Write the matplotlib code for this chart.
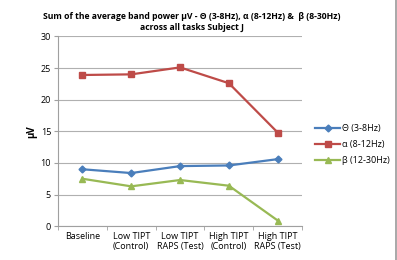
import matplotlib
matplotlib.use('Agg')
import matplotlib.pyplot as plt
from matplotlib.lines import Line2D

categories = ['Baseline', 'Low TIPT\n(Control)', 'Low TIPT\nRAPS (Test)',
              'High TIPT\n(Control)', 'High TIPT\nRAPS (Test)']
theta = [9.0, 8.4, 9.5, 9.6, 10.6]
alpha = [23.9, 24.0, 25.1, 22.6, 14.8]
beta = [7.5, 6.3, 7.3, 6.4, 0.9]
y_ticks = [0, 5, 10, 15, 20, 25, 30]

plt.rcParams['font.family'] = ['Open Sans', 'DejaVu Sans']

fig = plt.figure(figsize=(3.97, 2.6), dpi=100)
ax = fig.add_axes([0.146, 0.13, 0.615, 0.73])

x = range(len(categories))
ax.plot(x, theta, color='#4a7ebb', marker='D', markersize=3.5, lw=1.6, label='Θ (3-8Hz)')
ax.plot(x, alpha, color='#be4b48', marker='s', markersize=5, lw=1.6, label='α (8-12Hz)')
ax.plot(x, beta, color='#98b954', marker='^', markersize=5, lw=1.6, label='β (12-30Hz)')

ax.set_xlim(-0.5, len(categories) - 0.5)
ax.set_ylim(0, 30)
ax.set_yticks(y_ticks)
ax.set_xticks(list(x))
ax.set_xticklabels(categories, fontsize=6.5)
ax.tick_params(axis='y', labelsize=6.5, length=3, color='#a0a0a0', pad=2)
ax.tick_params(axis='x', length=0, pad=4)
# tick marks between categories
ax.set_xticks([i - 0.5 for i in range(len(categories) + 1)], minor=True)
ax.tick_params(axis='x', which='minor', length=3, color='#a0a0a0')

ax.grid(axis='y', color='#b0b0b0', lw=0.8)
ax.set_axisbelow(True)
for s in ['top', 'right']:
    ax.spines[s].set_visible(False)
for s in ['left', 'bottom']:
    ax.spines[s].set_color('#a0a0a0')
    ax.spines[s].set_linewidth(0.8)

ax.set_ylabel('µV', fontsize=7, fontweight='bold', labelpad=2)
ax.set_title('Sum of the average band power µV - Θ (3-8Hz), α (8-12Hz) &  β (8-30Hz)\n'
             'across all tasks Subject J', fontsize=6.2, fontweight='bold',
             x=0.55, pad=5, linespacing=1.2)

ax.legend(loc='center left', bbox_to_anchor=(1.02, 0.43), frameon=False,
          fontsize=6.5, handlelength=2.8, labelspacing=0.8, handletextpad=0.2)

fig.add_artist(Line2D([0.997, 0.997], [0, 1], color='#999999', lw=1.2,
                      transform=fig.transFigure))

fig.savefig('out.png', dpi=100)
